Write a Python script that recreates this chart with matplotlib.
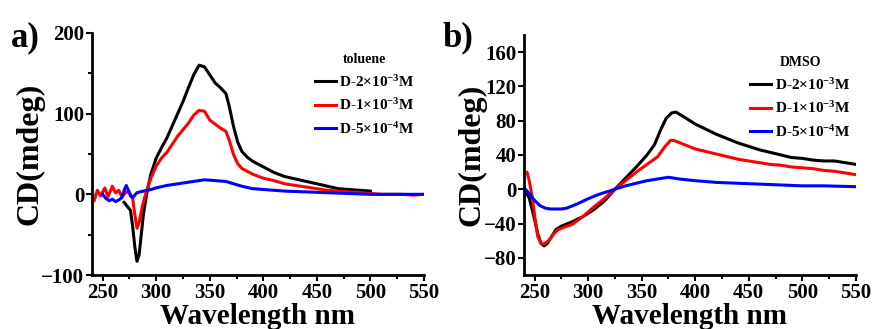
import numpy as np
import matplotlib.pyplot as plt
from matplotlib.ticker import MultipleLocator

plt.rcParams['font.family'] = ['Liberation Serif', 'DejaVu Serif']
plt.rcParams['font.weight'] = 'bold'
plt.rcParams['mathtext.fontset'] = 'custom'
plt.rcParams['mathtext.rm'] = 'Liberation Serif:bold'
plt.rcParams['mathtext.bf'] = 'Liberation Serif:bold'
plt.rcParams['mathtext.default'] = 'bf'

labels = [r'D-2$\times$10$^{-3}$M', r'D-1$\times$10$^{-3}$M', r'D-5$\times$10$^{-4}$M']
colors = ['black', '#ff0000', '#0000ff']

# a) toluene
a_black_x = [270, 273, 276, 278, 280, 282, 284, 286, 288, 291, 295, 300, 305, 310, 315, 320, 325, 330,
             335, 340, 345, 350, 355, 360, 365, 368, 372, 376, 380, 385, 390, 400, 410, 420, 430, 440,
             450, 460, 470, 480, 490, 500]
a_black_y = [-10, -15, -20, -40, -65, -83, -75, -50, -25, 0, 25, 45, 58, 70, 85, 100, 115, 132,
             148, 160, 158, 148, 138, 132, 125, 110, 85, 65, 53, 46, 41, 34, 27, 22, 19, 16,
             13, 10, 7, 6, 5, 4]

a_red_x = [240, 242, 245, 248, 252, 255, 259, 262, 265, 268, 272, 275, 278, 280, 282, 284, 287, 290,
           295, 300, 305, 310, 315, 320, 325, 330, 335, 340, 345, 350, 355, 360, 365, 368, 372, 376,
           380, 390, 400, 410, 420, 430, 440, 450, 460, 470, 480, 490, 500, 510, 520, 530, 540, 550]
a_red_y = [-3, -8, 5, -2, 8, -3, 10, 2, 5, -3, 3, 2, -5, -25, -42, -35, -15, 0,
           20, 35, 45, 52, 62, 72, 80, 88, 98, 104, 103, 92, 87, 82, 78, 68, 50, 38,
           32, 25, 20, 17, 13, 11, 9, 7, 5, 4, 3, 2, 1, 0, 0, 0, -1, 0]

a_blue_x = [250, 253, 256, 259, 262, 265, 268, 270, 272, 274, 276, 278, 282, 288, 295, 300, 310, 320,
            330, 340, 345, 355, 365, 370, 380, 390, 400, 420, 440, 460, 480, 500, 520, 550]
a_blue_y = [0, -5, -8, -6, -9, -7, -4, 5, 11, 5, -2, -4, 2, 4, 6, 8, 11, 13,
            15, 17, 18, 17, 16, 14, 10, 7, 6, 4, 3, 2, 1, 0, 0, 0]

# b) DMSO
b_black_x = [240, 245, 250, 253, 256, 259, 262, 266, 270, 275, 285, 295, 305, 315, 325, 335, 345, 355,
             362, 368, 373, 378, 382, 390, 400, 410, 420, 430, 440, 450, 460, 470, 480, 490, 500,
             510, 520, 530, 540, 550]
b_black_y = [0, -10, -35, -52, -63, -66, -63, -55, -47, -43, -38, -32, -24, -14, 0, 13, 26, 40,
             52, 70, 83, 89, 90, 84, 76, 70, 64, 59, 54, 50, 46, 43, 40, 37, 36,
             34, 33, 33, 31, 29]

b_red_x = [240, 242, 243, 245, 248, 250, 253, 256, 259, 263, 268, 272, 278, 285, 295, 305, 315, 325,
           335, 345, 355, 365, 372, 377, 380, 390, 400, 410, 420, 430, 440, 450, 460, 470, 480,
           490, 500, 510, 520, 530, 540, 550]
b_red_y = [18, 19, 20, 10, -10, -30, -55, -63, -64, -60, -52, -47, -44, -41, -32, -21, -11, 0,
           10, 20, 29, 38, 50, 57, 57, 52, 47, 44, 41, 38, 35, 33, 31, 29, 28,
           26, 25, 24, 22, 21, 19, 17]

b_blue_x = [240, 245, 250, 255, 260, 265, 275, 280, 290, 300, 310, 320, 325, 335, 345, 355, 365, 375,
            385, 400, 420, 440, 460, 480, 500, 520, 550]
b_blue_y = [2, -5, -13, -19, -22, -23, -23, -22, -17, -11, -6, -2, 0, 4, 7, 10, 12, 14,
            12, 10, 8, 7, 6, 5, 4, 4, 3]

fig = plt.figure(figsize=(8.76, 3.29), dpi=100)
ax1 = fig.add_axes([0.105, 0.164, 0.379, 0.736])
ax2 = fig.add_axes([0.598, 0.164, 0.379, 0.73])

series_a = [(a_black_x, a_black_y), (a_red_x, a_red_y), (a_blue_x, a_blue_y)]
series_b = [(b_black_x, b_black_y), (b_red_x, b_red_y), (b_blue_x, b_blue_y)]

for ax, series, solvent in [(ax1, series_a, 'toluene'), (ax2, series_b, 'DMSO')]:
    for (x, y), c, lab in zip(series, colors, labels):
        ax.plot(x, y, color=c, lw=2.2, label=lab)
    ax.set_xlim(240, 550)
    ax.xaxis.set_major_locator(MultipleLocator(50))
    ax.xaxis.set_minor_locator(MultipleLocator(25))
    for s in ['top', 'right']:
        ax.spines[s].set_visible(False)
    for s in ['left', 'bottom']:
        ax.spines[s].set_linewidth(2)
    ax.tick_params(which='major', length=4, width=1.5, labelsize=15, pad=1.5)
    ax.tick_params(which='minor', length=3, width=1.5)
    ax.set_xlabel('Wavelength nm', fontsize=21, fontweight='bold', labelpad=0.5)
    ax.set_ylabel('CD(mdeg)', fontsize=23, fontweight='bold', labelpad=-2)
    leg = ax.legend(title=solvent, loc='upper right', frameon=False, fontsize=11,
                    title_fontsize=10, handlelength=1.4, handletextpad=0.2,
                    labelspacing=0.5, borderaxespad=0.2)
    leg.get_title().set_fontweight('bold')

ax1.set_ylim(-100, 200)
ax1.yaxis.set_major_locator(MultipleLocator(100))
ax1.yaxis.set_minor_locator(MultipleLocator(50))
ax1.legend_.set_bbox_to_anchor((1.0, 0.955))

ax2.set_ylim(-100, 180)
ax2.set_yticks([-80, -40, 0, 40, 80, 120, 160])
ax2.legend_.set_bbox_to_anchor((1.01, 0.95))

fig.text(0.012, 0.86, 'a)', fontsize=25, fontweight='bold')
fig.text(0.505, 0.86, 'b)', fontsize=25, fontweight='bold')

fig.savefig('out.png', dpi=100)
